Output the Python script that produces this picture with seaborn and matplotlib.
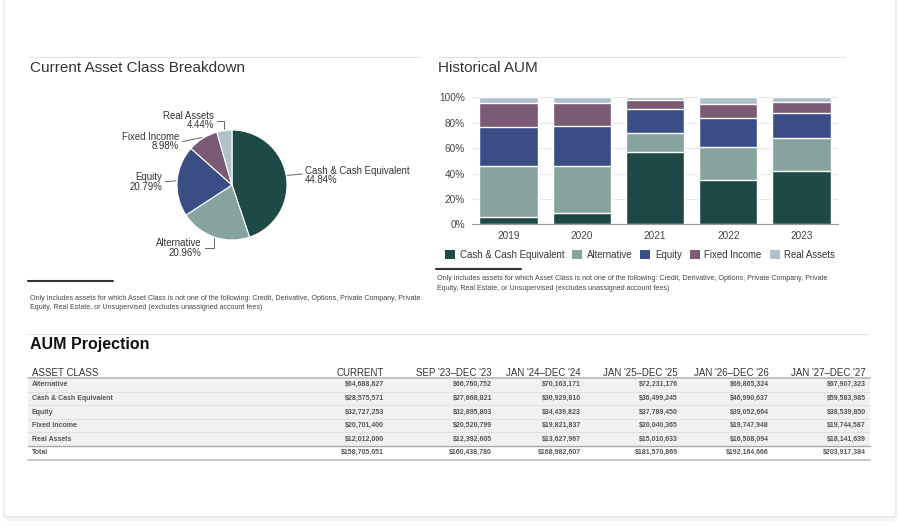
import numpy as np
import pandas as pd
import seaborn as sns
import matplotlib
matplotlib.use('Agg')
import matplotlib.pyplot as plt
from matplotlib.patches import Patch, Rectangle

sns.set_theme(style='white')
plt.rcParams['font.family'] = ['Liberation Sans', 'DejaVu Sans']

# ---- data ----
classes = ['Cash & Cash Equivalent', 'Alternative', 'Equity', 'Fixed Income', 'Real Assets']
colors = ['#1d4a46', '#87a3a0', '#3a4d85', '#7a5a74', '#adc2c9']

pie_pct = [44.84, 20.96, 20.79, 8.98, 4.44]

years = ['2019', '2020', '2021', '2022', '2023']
hist_cash = [6.0, 8.7, 56.7, 34.6, 42.3]
hist_alt = [40.2, 37.2, 15.0, 26.0, 25.7]
hist_eq = [30.2, 31.8, 18.9, 23.4, 19.7]
hist_fi = [19.4, 18.1, 7.6, 11.0, 8.3]
hist_ra = [4.2, 4.2, 1.8, 5.0, 4.0]

footnote = ['Only includes assets for which Asset Class is not one of the following: Credit, Derivative, Options, Private Company, Private',
            'Equity, Real Estate, or Unsupervised (excludes unassigned account fees)']

table_header = ['ASSET CLASS', 'CURRENT', "SEP '23\u2013DEC '23", "JAN '24\u2013DEC '24",
                "JAN '25\u2013DEC '25", "JAN '26\u2013DEC '26", "JAN '27\u2013DEC '27"]
table_rows = ['Alternative', 'Cash & Cash Equivalent', 'Equity', 'Fixed Income', 'Real Assets', 'Total']
col_current = ['$64,688,827', '$28,575,571', '$32,727,253', '$20,701,400', '$12,012,000', '$158,705,051']
col_2023 = ['$66,760,752', '$27,868,821', '$32,895,803', '$20,520,799', '$12,392,605', '$160,438,780']
col_2024 = ['$70,163,171', '$30,929,810', '$34,439,823', '$19,821,837', '$13,627,967', '$168,982,607']
col_2025 = ['$72,231,176', '$36,499,245', '$37,789,450', '$20,040,365', '$15,010,633', '$181,570,869']
col_2026 = ['$69,865,324', '$46,990,637', '$39,052,664', '$19,747,948', '$16,508,094', '$192,164,666']
col_2027 = ['$67,907,323', '$59,583,985', '$38,539,850', '$19,744,587', '$18,141,639', '$203,917,384']

W, H = 900, 526
TXT = '#333333'


def box(l, t, r, b):
    return [l / W, 1 - b / H, (r - l) / W, (b - t) / H]


fig = plt.figure(figsize=(9, 5.26), dpi=100, facecolor='white')

# background / overlay axes in pixel coordinates
bg = fig.add_axes([0, 0, 1, 1])
bg.set_xlim(0, W)
bg.set_ylim(H, 0)
bg.axis('off')
bg.add_patch(Rectangle((4, -2), 892, 519, facecolor='white', edgecolor='#e9e9e9', lw=1.2))
bg.plot([7, 893], [519, 519], color='#f3f3f3', lw=2)

# section separators and titles
bg.plot([28, 420], [57, 57], color='#e2e2e2', lw=0.8)
bg.plot([438, 845], [57, 57], color='#e2e2e2', lw=0.8)
bg.text(30, 68, 'Current Asset Class Breakdown', fontsize=11, color=TXT, va='center')
bg.text(438, 68, 'Historical AUM', fontsize=11, color=TXT, va='center')

# footnotes
bg.plot([28, 113], [281, 281], color='#333333', lw=1.5)
bg.text(30, 298, footnote[0], fontsize=5.1, color='#444444', va='center')
bg.text(30, 307.5, footnote[1], fontsize=5.1, color='#444444', va='center')
bg.plot([436, 521], [269, 269], color='#333333', lw=1.5)
bg.text(437, 279, footnote[0], fontsize=5.1, color='#444444', va='center')
bg.text(437, 288.5, footnote[1], fontsize=5.1, color='#444444', va='center')

# ---- pie ----
cx, cy, rad = 232, 185, 55
axp = fig.add_axes(box(cx - 2 * rad, cy - 2 * rad, cx + 2 * rad, cy + 2 * rad))
axp.set_facecolor('none')
wedges, _ = axp.pie(pie_pct, colors=colors, startangle=90, counterclock=False,
                    radius=1, wedgeprops=dict(edgecolor='white', linewidth=0.8))
axp.set_xlim(-2, 2)
axp.set_ylim(-2, 2)
axp.set_aspect('equal')
axp.axis('off')

lbl = [f'{c}\n{p:.2f}%' for c, p in zip(classes, pie_pct)]
# text anchors (data units, 1 = radius) and alignment
pie_text = {
    0: ((1.33, 0.17), 'left'),
    1: ((-0.55, -1.14), 'right'),
    2: ((-1.27, 0.06), 'right'),
    3: ((-0.96, 0.79), 'right'),
    4: ((-0.33, 1.17), 'right'),
}
line_c = '#666666'
for i, w in enumerate(wedges):
    mid = np.deg2rad((w.theta1 + w.theta2) / 2)
    ex, ey = np.cos(mid), np.sin(mid)
    (tx, ty), ha = pie_text[i]
    axp.text(tx, ty, lbl[i], ha=ha, va='center', fontsize=6.9, color=TXT,
             linespacing=0.95, multialignment='right' if ha == 'right' else 'left')
    if i == 0:
        axp.plot([ex * 1.02, tx - 0.05], [ey * 1.02 + 0.01, ty + 0.03], color=line_c, lw=0.7)
    elif i in (1, 4):
        sx = tx + 0.06
        axp.plot([sx, ex, ex], [ty, ty, ey * 1.02], color=line_c, lw=0.7)
    else:
        axp.plot([tx + 0.06, ex * 1.02], [ty, ey * 1.02], color=line_c, lw=0.7)

# ---- stacked bars ----
axb = fig.add_axes(box(472, 97.3, 838, 224.3))
axb.set_facecolor('none')
df = pd.DataFrame({'year': years, classes[0]: hist_cash, classes[1]: hist_alt,
                   classes[2]: hist_eq, classes[3]: hist_fi, classes[4]: hist_ra})
vals = df[classes].to_numpy()
vals = vals / vals.sum(axis=1, keepdims=True) * 100
cum = np.cumsum(vals, axis=1)
for k in range(len(classes) - 1, -1, -1):
    sns.barplot(x=years, y=cum[:, k], color=colors[k], saturation=1, width=0.8,
                ax=axb, order=years, zorder=3)
axb.set_ylim(0, 100)
axb.set_yticks([0, 20, 40, 60, 80, 100])
axb.set_yticklabels([f'{v}%' for v in [0, 20, 40, 60, 80, 100]])
axb.yaxis.grid(True, color='#e6e6e6', lw=0.8, zorder=0)
axb.set_axisbelow(True)
for s in ['top', 'right', 'left']:
    axb.spines[s].set_visible(False)
axb.spines['bottom'].set_color('#9a9a9a')
axb.spines['bottom'].set_linewidth(0.8)
axb.tick_params(axis='both', length=0, labelsize=7.2, labelcolor='#444444')
axb.tick_params(axis='y', pad=5)
axb.tick_params(axis='x', pad=5)
axb.set_xlabel('')
axb.set_ylabel('')

handles = [Patch(facecolor=c, edgecolor='none', label=n) for c, n in zip(colors, classes)]
fig.legend(handles=handles, loc='center', bbox_to_anchor=(640 / W, 1 - 255 / H), ncol=5,
           frameon=False, fontsize=6.9, handlelength=1.05, handleheight=1.05,
           handletextpad=0.45, columnspacing=0.85, labelcolor=TXT)

# ---- projection table ----
bg.plot([28, 870], [334, 334], color='#e2e2e2', lw=0.8)
bg.text(30, 344, 'AUM Projection', fontsize=11.5, fontweight='bold', color='#111111', va='center')

col_right = [384, 492, 581, 678, 769, 866]
cols = [col_current, col_2023, col_2024, col_2025, col_2026, col_2027]
bg.text(32, 373, table_header[0], fontsize=7, color=TXT, va='center')
for x, h in zip(col_right, table_header[1:]):
    bg.text(x, 373, h, fontsize=7, color=TXT, va='center', ha='right')

edges = [378, 391.6, 405.2, 418.8, 432.4, 446, 459.6]
for i in range(5):
    bg.add_patch(Rectangle((28, edges[i]), 842, edges[i + 1] - edges[i],
                           facecolor='#f1f1f1', edgecolor='none'))
    if i > 0:
        bg.plot([28, 870], [edges[i], edges[i]], color='#dddddd', lw=0.6)
bg.plot([28, 870], [378, 378], color='#bdbdbd', lw=1.3)
bg.plot([28, 870], [446, 446], color='#a8a8a8', lw=1.0)
bg.plot([28, 870], [459.6, 459.6], color='#c4c4c4', lw=1.3)

for r, name in enumerate(table_rows):
    yc = (edges[r] + edges[r + 1]) / 2
    bg.text(32, yc, name, fontsize=5, fontweight='bold', color='#555555', va='center')
    for x, col in zip(col_right, cols):
        bg.text(x, yc, col[r], fontsize=5, fontweight='bold', color='#555555',
                va='center', ha='right')

fig.savefig('out.png', dpi=100, facecolor='white')
